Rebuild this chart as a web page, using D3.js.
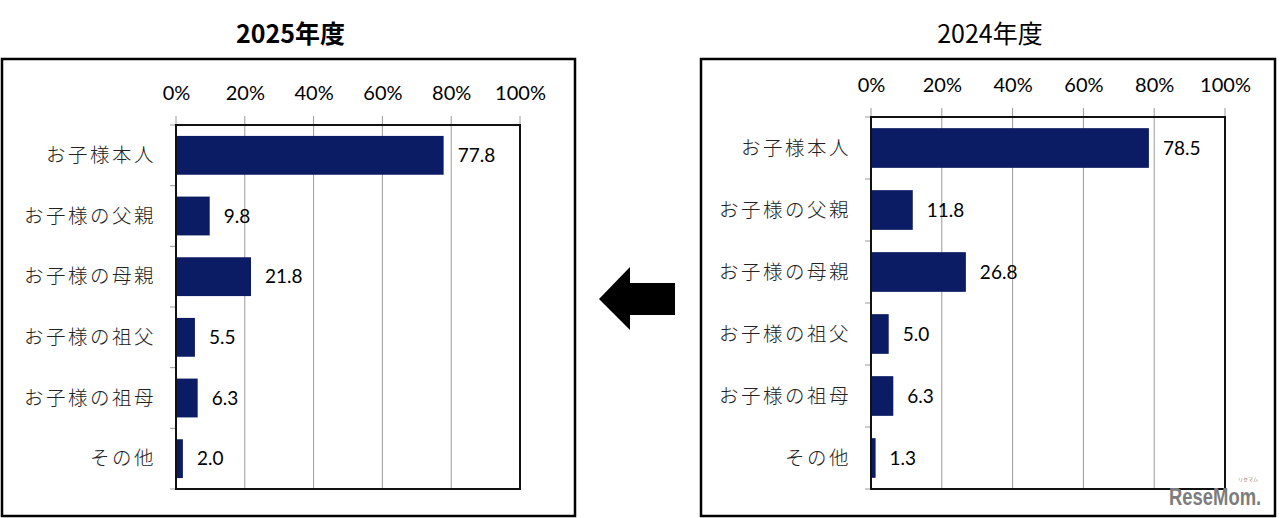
<!DOCTYPE html>
<html lang="ja">
<head>
<meta charset="utf-8">
<title>2025年度 / 2024年度</title>
<script src="https://cdn.jsdelivr.net/npm/d3@7"></script>
<style>
  body { margin: 0; background: #fff; }
  svg { display: block; }
</style>
</head>
<body>
<script>
// data
const categories = ["お子様本人", "お子様の父親", "お子様の母親", "お子様の祖父", "お子様の祖母", "その他"];
const values2025 = [77.8, 9.8, 21.8, 5.5, 6.3, 2.0];
const values2024 = [78.5, 11.8, 26.8, 5.0, 6.3, 1.3];
const tickValues = [0, 20, 40, 60, 80, 100];

const W = 1280, H = 518;
const svg = d3.select("body").append("svg").attr("width", W).attr("height", H);

const barColor = "#0b1b64";
const numFont = "Lato, 'Open Sans', sans-serif";
const jpFont = "'Noto Sans CJK JP', sans-serif";

function drawPanel(opt) {
  const g = svg.append("g");

  // outer box
  g.append("rect")
    .attr("x", opt.box[0]).attr("y", opt.box[1])
    .attr("width", opt.box[2] - opt.box[0]).attr("height", opt.box[3] - opt.box[1])
    .attr("fill", "none").attr("stroke", "#000").attr("stroke-width", 2.5);

  // title
  g.append("text")
    .attr("x", (opt.box[0] + opt.box[2]) / 2 + 2).attr("y", 32)
    .attr("text-anchor", "middle").attr("dominant-baseline", "central")
    .attr("font-family", "'Noto Sans CJK JP', Lato, sans-serif")
    .attr("font-size", 25).attr("font-weight", opt.bold ? 700 : 400)
    .attr("fill", "#000")
    .text(opt.title);

  const x = d3.scaleLinear().domain([0, 100]).range([opt.x0, opt.x1]);
  const y = d3.scaleBand().domain(categories).range([opt.y0, opt.y1])
    .paddingInner(0.36).paddingOuter(0.18);

  // gridlines + top ticks
  g.selectAll(".grid").data(tickValues).join("line")
    .attr("x1", d => x(d)).attr("x2", d => x(d))
    .attr("y1", opt.y0 - 9).attr("y2", opt.y1)
    .attr("stroke", "#9a9a9a").attr("stroke-width", 1);

  // top axis labels
  const ax = d3.axisTop(x).tickValues(tickValues).tickFormat(d => d + "%").tickSize(0);
  const axG = g.append("g").attr("transform", `translate(0,${opt.y0 - 32})`).call(ax);
  axG.select(".domain").remove();
  axG.selectAll("text")
    .attr("y", 0).attr("dy", "0.35em")
    .attr("font-family", numFont).attr("font-size", 20).attr("fill", "#000");

  // left category ticks at band boundaries
  const step = y.step();
  const bounds = d3.range(categories.length + 1).map(i => opt.y0 + i * step);
  g.selectAll(".ltick").data(bounds).join("line")
    .attr("x1", opt.x0 - 6).attr("x2", opt.x0)
    .attr("y1", d => d).attr("y2", d => d)
    .attr("stroke", "#9a9a9a").attr("stroke-width", 1);

  // bars
  g.selectAll(".bar").data(opt.values).join("rect")
    .attr("x", x(0))
    .attr("y", (d, i) => y(categories[i]))
    .attr("width", d => x(d) - x(0))
    .attr("height", y.bandwidth())
    .attr("fill", barColor);

  // value labels
  g.selectAll(".val").data(opt.values).join("text")
    .attr("x", d => x(d) + 14)
    .attr("y", (d, i) => y(categories[i]) + y.bandwidth() / 2)
    .attr("dy", "0.35em")
    .attr("font-family", numFont).attr("font-size", 19).attr("fill", "#000")
    .text(d => d.toFixed(1));

  // category labels
  g.selectAll(".cat").data(categories).join("text")
    .attr("x", opt.x0 - 20)
    .attr("y", d => y(d) + y.bandwidth() / 2)
    .attr("dy", "0.35em")
    .attr("text-anchor", "end")
    .attr("font-family", jpFont).attr("font-size", 19.5).attr("font-weight", 300)
    .attr("letter-spacing", 2.5)
    .attr("fill", "#222")
    .text(d => d);

  // plot frame
  g.append("rect")
    .attr("x", opt.x0).attr("y", opt.y0)
    .attr("width", opt.x1 - opt.x0).attr("height", opt.y1 - opt.y0)
    .attr("fill", "none").attr("stroke", "#111").attr("stroke-width", 2);
}

drawPanel({ title: "2025年度", bold: true, values: values2025,
  box: [2, 59, 575, 516], x0: 176, x1: 520, y0: 125, y1: 489 });
drawPanel({ title: "2024年度", bold: false, values: values2024,
  box: [701, 59, 1275, 516], x0: 871, x1: 1225, y0: 117, y1: 489 });

// arrow pointing left
svg.append("path")
  .attr("d", "M599,299 L630,267 L630,283 L675,283 L675,315 L630,315 L630,330 Z")
  .attr("fill", "#000");

// watermark
svg.append("text")
  .attr("transform", "translate(1169,505) scale(0.97,1.3)")
  .attr("font-family", "'Liberation Sans Narrow', 'Liberation Sans', sans-serif")
  .attr("font-size", 19).attr("font-weight", 700)
  .attr("fill", "#7d7d7d")
  .text("ReseMom.");
svg.append("text")
  .attr("x", 1248).attr("y", 481)
  .attr("text-anchor", "middle")
  .attr("font-family", jpFont).attr("font-size", 5)
  .attr("fill", "#888")
  .text("リセマム");
</script>
</body>
</html>
